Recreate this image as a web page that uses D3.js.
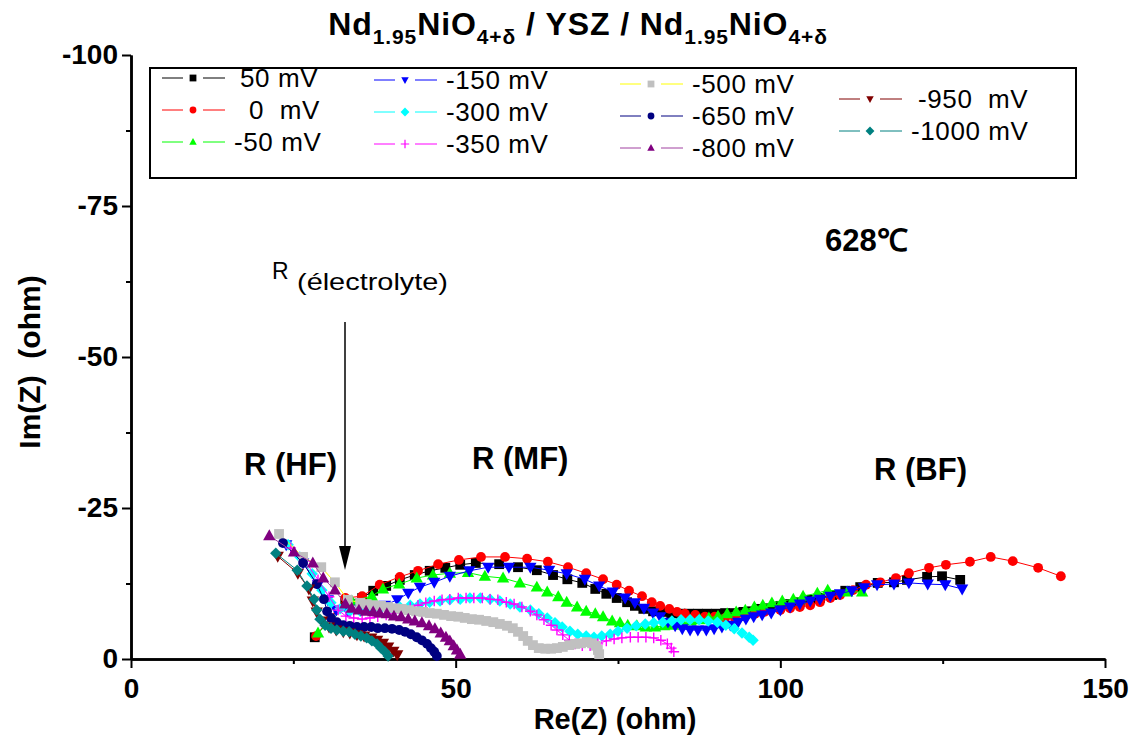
<!DOCTYPE html>
<html><head><meta charset="utf-8">
<script src="https://cdn.jsdelivr.net/npm/d3@7"></script>
<style>
body{margin:0;background:#fff;}
svg text{font-family:"Liberation Sans",Arial,sans-serif;white-space:pre;}
</style></head><body>
<svg id="chart" width="1140" height="740"></svg>
<script>
// ---------------- DATA ----------------
const seriesLabels = ["50 mV","0  mV","-50 mV","-150 mV","-300 mV","-350 mV","-500 mV","-650 mV","-800 mV","-950  mV","-1000 mV"];

const s50 = [[28.3,-3.6],[33.0,-9.6],[35.6,-10.1],[37.3,-11.3],[39.3,-12.1],[41.4,-13.1],[43.7,-13.9],[46.0,-14.6],[48.4,-15.1],[50.7,-15.6],[53.1,-15.9],[56.7,-15.7],[59.6,-15.2],[62.5,-14.7],[65.0,-13.9],[67.2,-13.2],[69.5,-12.6],[71.5,-11.6],[73.2,-10.8],[74.8,-10.1],[76.4,-9.4],[77.6,-8.8],[78.9,-8.3],[80.4,-7.9],[81.8,-7.8],[83.2,-7.6],[84.6,-7.5],[85.9,-7.5],[87.3,-7.5],[88.7,-7.5],[90.1,-7.5],[91.5,-7.6],[92.9,-7.6],[94.3,-7.8],[95.6,-7.9],[97.0,-8.3],[98.4,-8.4],[100.0,-8.8],[101.5,-9.1],[103.0,-9.4],[104.6,-9.8],[106.1,-10.1],[108.0,-10.6],[110.0,-11.3],[112.3,-11.9],[115.0,-12.6],[117.5,-12.7],[119.5,-13.1],[122.6,-13.6],[124.9,-13.7],[127.7,-13.1]];

const s0 = [[28.5,-3.8],[33.0,-10.1],[35.6,-10.4],[38.3,-12.3],[41.4,-13.6],[44.2,-14.6],[47.3,-15.7],[50.5,-16.4],[53.9,-16.9],[57.6,-16.9],[61.0,-16.6],[64.2,-16.1],[67.3,-15.2],[70.1,-14.2],[72.7,-13.2],[74.8,-12.3],[76.7,-11.3],[78.7,-10.4],[80.2,-9.4],[81.5,-8.8],[82.9,-8.3],[84.1,-7.8],[85.3,-7.5],[86.9,-7.3],[88.4,-7.0],[89.9,-7.0],[91.5,-6.8],[93.0,-6.8],[94.6,-7.1],[96.1,-7.5],[97.6,-7.8],[100.0,-8.1],[101.5,-8.4],[103.0,-8.6],[104.6,-8.9],[106.1,-9.4],[107.7,-10.1],[109.2,-10.6],[111.2,-11.4],[113.2,-12.3],[115.4,-12.7],[117.8,-13.4],[119.8,-14.2],[122.9,-15.1],[125.5,-15.6],[129.2,-16.1],[132.4,-16.9],[135.8,-16.2],[139.7,-15.1],[143.2,-13.7]];

const sm50 = [[28.8,-4.3],[34.0,-9.6],[37.1,-10.4],[38.8,-11.6],[41.3,-12.4],[44.0,-13.4],[46.5,-13.9],[49.1,-14.2],[51.9,-14.3],[54.5,-13.7],[57.3,-13.4],[59.9,-12.6],[62.5,-11.9],[64.1,-11.1],[65.8,-10.3],[67.1,-9.4],[68.7,-8.6],[70.1,-7.9],[71.5,-7.5],[72.7,-7.0],[74.1,-6.3],[75.3,-6.0],[76.5,-5.6],[77.9,-5.5],[79.3,-5.3],[80.7,-5.3],[82.1,-5.5],[83.5,-5.6],[84.9,-6.0],[86.2,-6.3],[87.6,-6.5],[89.0,-6.8],[90.4,-7.1],[91.8,-7.5],[93.2,-7.8],[94.6,-8.1],[96.0,-8.6],[97.3,-8.9],[98.7,-9.3],[100.3,-9.6],[102.0,-9.9],[103.5,-10.4],[105.7,-10.9],[107.3,-11.4],[110.3,-11.1],[112.6,-11.1]];

const sm150 = [[23.9,-18.9],[26.5,-15.9],[28.8,-12.3],[30.3,-9.8],[31.6,-8.1],[33.4,-7.9],[35.3,-8.3],[37.1,-8.6],[39.1,-8.9],[41.0,-9.8],[42.7,-10.9],[44.5,-11.9],[46.7,-12.7],[49.1,-13.7],[52.1,-14.6],[55.0,-15.2],[58.2,-15.2],[61.5,-15.2],[64.4,-14.7],[67.1,-14.1],[69.9,-13.2],[72.1,-12.1],[74.2,-11.1],[76.1,-10.1],[77.6,-9.3],[79.0,-8.4],[80.4,-7.6],[81.5,-7.0],[82.7,-6.1],[83.8,-5.5],[84.9,-5.0],[86.1,-4.8],[87.3,-4.8],[88.6,-4.8],[89.8,-5.0],[91.0,-5.3],[92.3,-5.6],[93.5,-6.1],[94.7,-6.6],[95.9,-7.0],[97.2,-7.3],[98.6,-7.6],[100.0,-8.1],[101.5,-8.6],[103.0,-9.1],[104.6,-9.6],[106.1,-9.9],[107.7,-10.4],[109.2,-10.8],[111.0,-11.3],[112.9,-11.8],[114.9,-12.3],[117.5,-12.4],[119.8,-12.6],[122.7,-12.4],[125.4,-12.3],[128.0,-11.6]];

const sm300 = [[24.2,-18.9],[26.0,-16.9],[27.9,-14.1],[29.4,-11.4],[30.8,-9.3],[32.2,-8.3],[33.7,-7.9],[35.3,-7.9],[36.8,-8.1],[38.3,-8.3],[39.9,-8.4],[41.4,-8.6],[43.0,-8.9],[44.5,-9.1],[46.0,-9.4],[47.6,-9.6],[49.1,-9.8],[50.7,-9.9],[52.2,-10.1],[53.8,-10.1],[55.3,-9.9],[56.8,-9.6],[58.4,-9.1],[59.9,-8.6],[61.5,-8.1],[62.8,-7.5],[64.1,-6.8],[65.3,-6.0],[66.4,-5.3],[67.6,-4.6],[68.8,-4.1],[70.1,-3.8],[71.3,-3.6],[72.5,-3.8],[73.8,-4.1],[75.0,-4.6],[76.4,-5.1],[77.8,-5.5],[79.2,-5.8],[80.5,-6.0],[81.9,-6.1],[83.3,-6.3],[84.7,-6.5],[86.1,-6.5],[87.5,-6.5],[88.9,-6.3],[90.3,-6.1],[91.6,-5.6],[92.9,-5.0],[94.1,-4.3],[95.2,-3.6],[95.8,-3.1]];

const sm350 = [[24.6,-18.4],[26.8,-16.2],[28.8,-13.1],[30.5,-10.3],[31.9,-8.1],[33.1,-7.1],[34.3,-6.8],[35.6,-6.6],[36.8,-6.8],[38.0,-7.0],[39.3,-7.3],[40.5,-7.6],[41.7,-8.1],[43.0,-8.6],[44.2,-8.9],[45.4,-9.3],[46.7,-9.6],[47.9,-9.8],[49.1,-9.9],[50.4,-10.1],[51.6,-10.1],[52.8,-10.1],[54.1,-10.1],[55.3,-9.9],[56.5,-9.8],[57.8,-9.4],[59.0,-9.1],[60.2,-8.6],[61.5,-7.9],[62.5,-7.3],[63.6,-6.5],[64.7,-5.6],[65.6,-4.8],[66.5,-4.0],[67.5,-3.1],[68.4,-2.5],[69.5,-2.2],[70.7,-2.2],[71.9,-2.5],[73.2,-3.0],[74.4,-3.3],[75.6,-3.5],[76.9,-3.6],[78.1,-3.6],[79.3,-3.6],[80.5,-3.5],[81.6,-3.1],[82.6,-2.5],[83.2,-1.8],[83.6,-1.2]];

const sm500 = [[22.8,-20.7],[26.5,-16.9],[29.3,-15.2],[31.4,-12.7],[33.4,-9.8],[35.3,-9.3],[36.3,-9.1],[37.4,-8.9],[38.5,-8.8],[39.6,-8.6],[40.7,-8.4],[41.7,-8.3],[42.8,-8.1],[43.9,-7.9],[45.0,-7.8],[46.0,-7.6],[47.1,-7.5],[48.2,-7.3],[49.3,-7.1],[50.4,-7.0],[51.4,-6.8],[52.5,-6.6],[53.6,-6.5],[54.7,-6.3],[55.8,-6.1],[56.8,-5.8],[57.9,-5.5],[58.8,-5.1],[59.6,-4.5],[60.4,-3.8],[61.1,-3.0],[61.9,-2.3],[62.8,-1.8],[63.8,-1.7],[64.7,-1.7],[65.6,-1.8],[66.5,-2.0],[67.5,-2.3],[68.4,-2.5],[69.3,-2.6],[70.2,-2.8],[71.0,-2.6],[71.6,-2.2],[71.9,-1.5],[72.1,-0.8]];

const sm650 = [[23.4,-19.2],[26.5,-15.9],[28.6,-12.4],[29.7,-9.9],[30.2,-7.9],[30.8,-6.8],[31.7,-6.1],[32.7,-5.6],[33.7,-5.5],[34.8,-5.3],[35.9,-5.3],[37.0,-5.3],[38.0,-5.1],[39.1,-5.1],[40.2,-5.0],[41.3,-4.8],[42.2,-4.5],[43.1,-4.1],[44.0,-3.6],[44.8,-3.1],[45.6,-2.5],[46.2,-1.8],[46.7,-1.2],[47.1,-0.5]];

const sm800 = [[21.3,-20.4],[25.1,-17.7],[28.0,-15.9],[29.6,-13.4],[31.4,-11.4],[33.0,-9.1],[34.0,-8.4],[35.1,-8.1],[36.2,-7.9],[37.3,-7.8],[38.3,-7.6],[39.4,-7.5],[40.5,-7.1],[41.6,-7.0],[42.7,-6.6],[43.7,-6.3],[44.8,-6.0],[45.9,-5.5],[46.8,-5.0],[47.7,-4.3],[48.5,-3.6],[49.1,-3.0],[49.7,-2.2],[50.2,-1.5],[50.7,-0.8]];

const sm950 = [[22.6,-17.0],[25.7,-14.2],[27.4,-11.6],[28.0,-9.6],[28.6,-7.8],[29.4,-6.3],[30.5,-5.3],[31.6,-4.8],[32.7,-4.5],[33.7,-4.3],[34.8,-4.0],[35.9,-3.8],[37.0,-3.5],[37.9,-3.1],[38.8,-2.6],[39.6,-2.0],[40.4,-1.3],[41.0,-0.7]];

const sm1000 = [[22.3,-17.5],[25.6,-14.7],[27.1,-12.1],[28.2,-9.9],[28.6,-8.1],[29.1,-6.6],[29.9,-5.6],[30.8,-5.1],[31.7,-4.8],[32.7,-4.6],[33.6,-4.5],[34.5,-4.1],[35.4,-3.8],[36.3,-3.5],[37.1,-3.0],[37.9,-2.5],[38.5,-1.8],[39.1,-1.2],[39.6,-0.5]];

const seriesData = [s50, s0, sm50, sm150, sm300, sm350, sm500, sm650, sm800, sm950, sm1000];

const xTicks = [0, 50, 100, 150];
const xTickLabels = ["0", "50", "100", "150"];
const xMinorTicks = [25, 75, 125];
const yTicks = [-100, -75, -50, -25, 0];
const yTickLabels = ["-100", "-75", "-50", "-25", "0"];
const yMinorTicks = [-87.5, -62.5, -37.5, -12.5];

// ---------------- STYLES ----------------
const lineColors = ["#000000","#ff0000","#00ff00","#0000ff","#00ffff","#ff00ff","#ffff00","#000080","#a040a0","#800000","#008080"];
const markColors = ["#000000","#ff0000","#00ff00","#0000ff","#00ffff","#ff00ff","#c0c0c0","#000080","#800080","#800000","#008080"];
const markTypes  = ["square","circle","tri","tridown","diamond","plus","square","circle","tri","tridown","diamond"];

function markPath(type, s) {
  switch (type) {
    case "square": return `M${-s},${-s}H${s}V${s}H${-s}Z`;
    case "circle": return `M${s},0A${s},${s} 0 1,1 ${-s},0A${s},${s} 0 1,1 ${s},0Z`;
    case "tri": return `M0,${-s*1.15}L${s*1.1},${s*0.8}L${-s*1.1},${s*0.8}Z`;
    case "tridown": return `M0,${s*1.15}L${s*1.1},${-s*0.8}L${-s*1.1},${-s*0.8}Z`;
    case "diamond": return `M0,${-s*1.3}L${s*1.3},0L0,${s*1.3}L${-s*1.3},0Z`;
    case "plus": return `M${-s*1.2},0H${s*1.2}M0,${-s*1.2}V${s*1.2}`;
  }
}
function markSize(t){ return t==="plus"?4.4:(t==="diamond"?4.4:(t.startsWith("tri")?5.6:4.9)); }

// ---------------- CHART ----------------
const svg = d3.select("#chart");
const x = d3.scaleLinear().domain([0,150]).range([131,1105]);
const y = d3.scaleLinear().domain([0,-100]).range([659,55]);
const FONT = '"Liberation Sans",Arial,sans-serif';

const gx = svg.append("g").attr("transform","translate(0,659)")
  .call(d3.axisBottom(x).tickValues(xTicks).tickFormat((d,i)=>xTickLabels[i]).tickSize(9).tickSizeOuter(0).tickPadding(10));
const gxm = svg.append("g").attr("transform","translate(0,659)")
  .call(d3.axisBottom(x).tickValues(xMinorTicks).tickFormat("").tickSize(5).tickSizeOuter(0));
const gy = svg.append("g").attr("transform","translate(131,0)")
  .call(d3.axisLeft(y).tickValues(yTicks).tickFormat((d,i)=>yTickLabels[i]).tickSize(9).tickSizeOuter(0).tickPadding(4));
const gym = svg.append("g").attr("transform","translate(131,0)")
  .call(d3.axisLeft(y).tickValues(yMinorTicks).tickFormat("").tickSize(5).tickSizeOuter(0));
[gx,gxm,gy,gym].forEach(g=>{
  g.select(".domain").attr("stroke","#000").attr("stroke-width",2.5);
  g.selectAll(".tick line").attr("stroke","#000").attr("stroke-width",2);
  g.selectAll(".tick text").attr("fill","#000").style("font-family",FONT).style("font-size","28px").style("font-weight","bold");
});

const line = d3.line().x(d=>x(d[0])).y(d=>y(d[1]));
seriesData.forEach((data,i)=>{
  const g = svg.append("g");
  g.append("path").attr("d",line(data)).attr("fill","none").attr("stroke",lineColors[i]).attr("stroke-width",1);
  const t = markTypes[i];
  g.selectAll("path.m").data(data).enter().append("path").attr("class","m")
    .attr("transform",d=>`translate(${x(d[0])},${y(d[1])})`)
    .attr("d",markPath(t, markSize(t)))
    .attr("fill",t==="plus"?"none":markColors[i])
    .attr("stroke",t==="plus"?markColors[i]:"none")
    .attr("stroke-width",1.4);
});

// legend
svg.append("rect").attr("x",150).attr("y",68).attr("width",926).attr("height",110)
  .attr("fill","none").attr("stroke","#000").attr("stroke-width",2);
const legendPos = [
  {sx:193,y:78,tx:240},{sx:193,y:110,tx:249},{sx:193,y:142,tx:234},
  {sx:405,y:80,tx:446},{sx:405,y:112,tx:446},{sx:405,y:144,tx:446},
  {sx:651,y:84,tx:692},{sx:651,y:116,tx:692},{sx:651,y:148,tx:692},
  {sx:870,y:99,tx:918},{sx:870,y:131,tx:911}
];
seriesLabels.forEach((lab,i)=>{
  const p = legendPos[i];
  const g = svg.append("g");
  g.append("line").attr("x1",p.sx-31).attr("x2",p.sx-10).attr("y1",p.y).attr("y2",p.y).attr("stroke",lineColors[i]).attr("stroke-width",1);
  g.append("line").attr("x1",p.sx+10).attr("x2",p.sx+32).attr("y1",p.y).attr("y2",p.y).attr("stroke",lineColors[i]).attr("stroke-width",1);
  const t = markTypes[i];
  g.append("path").attr("transform",`translate(${p.sx},${p.y})`)
    .attr("d",markPath(t, t==="plus"?3.5:3.4))
    .attr("fill",t==="plus"?"none":markColors[i])
    .attr("stroke",t==="plus"?markColors[i]:"none").attr("stroke-width",1.2);
  g.append("text").attr("x",p.tx).attr("y",p.y).attr("dy","0.36em")
    .style("font-size","26px").style("letter-spacing","0.6px").attr("fill","#000").text(lab);
});

// title
const title = svg.append("text").attr("x",578).attr("y",35).attr("text-anchor","middle")
  .style("font-size","32px").style("font-weight","bold").style("letter-spacing","0.9px");
const parts = [["Nd",0],["1.95",1],["NiO",0],["4+δ",1],[" / YSZ / ",0],["Nd",0],["1.95",1],["NiO",0],["4+δ",1]];
let prevSub = 0;
parts.forEach(([t,sub])=>{
  const ts = title.append("tspan").text(t);
  if (sub) ts.style("font-size","21px");
  const shift = (sub?9:0) - (prevSub?9:0);
  if (shift) ts.attr("dy",shift);
  prevSub = sub;
});

// axis titles
svg.append("text").attr("x",615).attr("y",729).attr("text-anchor","middle")
  .style("font-size","29px").style("font-weight","bold").text("Re(Z) (ohm)");
svg.append("text").attr("transform","translate(40,362) rotate(-90)").attr("text-anchor","middle")
  .style("font-size","30px").style("font-weight","bold").text("Im(Z)  (ohm)");

// annotations
svg.append("text").attr("x",272).attr("y",279).style("font-size","23px").text("R");
svg.append("text").attr("x",297).attr("y",290).style("font-size","24px")
  .attr("textLength",151).attr("lengthAdjust","spacingAndGlyphs").text("(électrolyte)");
svg.append("line").attr("x1",345).attr("x2",345).attr("y1",322).attr("y2",552).attr("stroke","#000").attr("stroke-width",1.5);
svg.append("path").attr("d","M339,546L351,546L345,570Z").attr("fill","#000");
svg.append("text").attr("x",244).attr("y",475).style("font-size","31px").style("font-weight","bold").text("R (HF)");
svg.append("text").attr("x",472).attr("y",469).style("font-size","31px").style("font-weight","bold").text("R (MF)");
svg.append("text").attr("x",874).attr("y",480).style("font-size","31px").style("font-weight","bold").text("R (BF)");
svg.append("text").attr("x",825).attr("y",251).style("font-size","31px").style("font-weight","bold").text("628℃");
</script>
</body></html>
